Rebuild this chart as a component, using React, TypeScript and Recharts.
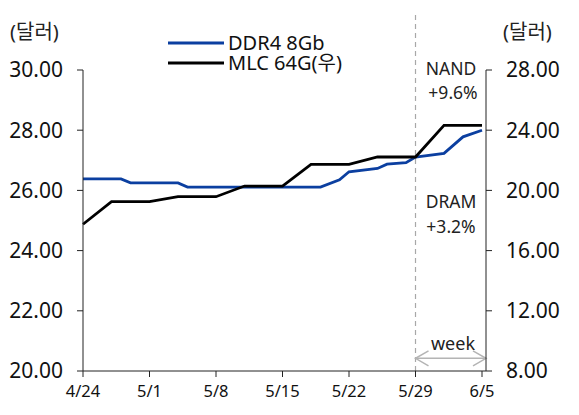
import React from "react";
import {
  LineChart,
  Line,
  XAxis,
  YAxis,
  Legend,
  ReferenceLine,
  Customized,
} from "recharts";

// Day offsets from 4/24 and values
const ddr4Days = [0, 4, 5, 10, 11, 25, 27, 28, 31, 32, 34, 35, 38, 40, 42];
const ddr4Values = [26.38, 26.38, 26.25, 26.25, 26.11, 26.11, 26.35, 26.62, 26.73, 26.87, 26.92, 27.11, 27.23, 27.78, 28.0];

const mlcDays = [0, 3, 7, 10, 14, 17, 21, 24, 28, 31, 35, 38, 42];
const mlcValues = [17.75, 19.25, 19.25, 19.58, 19.58, 20.29, 20.29, 21.73, 21.73, 22.22, 22.22, 24.32, 24.32];

const xTickDays = [0, 7, 14, 21, 28, 35, 42];
const xTickLabels = ["4/24", "5/1", "5/8", "5/15", "5/22", "5/29", "6/5"];
const leftTicks = [20, 22, 24, 26, 28, 30];
const rightTicks = [8, 12, 16, 20, 24, 28];

const ddr4Data = ddr4Days.map((d, i) => ({ day: d, ddr4: ddr4Values[i] }));
const mlcData = mlcDays.map((d, i) => ({ day: d, mlc: mlcValues[i] }));

const FONT = "'Noto Sans', 'Noto Sans CJK KR', sans-serif";
const BLUE = "#0b3fa0";
const AXIS = "#222";

const legendItems = [
  { name: "DDR4 8Gb", color: BLUE },
  { name: "MLC 64G(우)", color: "#000" },
];

const LegendContent = () => (
  <div style={{ height: 40, paddingTop: 3, boxSizing: "border-box", fontFamily: FONT, fontSize: 20, color: "#111" }}>
    {legendItems.map((s) => (
      <div key={s.name} style={{ display: "flex", alignItems: "center", height: 20, whiteSpace: "nowrap" }}>
        <svg width={56} height={4} style={{ flexShrink: 0, marginRight: 4, display: "block" }}>
          <line x1={0} y1={2} x2={56} y2={2} stroke={s.color} strokeWidth={3} />
        </svg>
        <span style={{ lineHeight: "20px" }}>{s.name}</span>
      </div>
    ))}
  </div>
);

const ArrowShape = (p: any) => {
  const { x1, y1, x2, y2 } = p;
  const h = 13;
  const w = 7.5;
  return (
    <g stroke="#b4b4b4" strokeWidth={1.5} fill="none">
      <line x1={x1} y1={y1} x2={x2} y2={y2} />
      <polyline points={`${x1 + h},${y1 - w} ${x1},${y1} ${x1 + h},${y1 + w}`} />
      <polyline points={`${x2 - h},${y2 - w} ${x2},${y2} ${x2 - h},${y2 + w}`} />
    </g>
  );
};

const Annotations = () => (
  <g fontFamily={FONT} fill="#222">
    <text x={10} y={31} fontSize={20} dominantBaseline="central">(달러)</text>
    <text x={503} y={31} fontSize={20} dominantBaseline="central">(달러)</text>
    <text x={451} y={68} fontSize={17.5} textAnchor="middle" dominantBaseline="central">NAND</text>
    <text x={453} y={92} fontSize={17.5} textAnchor="middle" dominantBaseline="central">+9.6%</text>
    <text x={451} y={201} fontSize={17.5} textAnchor="middle" dominantBaseline="central">DRAM</text>
    <text x={451} y={226} fontSize={17.5} textAnchor="middle" dominantBaseline="central">+3.2%</text>
    <text x={453} y={343} fontSize={18} textAnchor="middle" dominantBaseline="central">week</text>
  </g>
);

export default function App() {
  return (
    <div style={{ position: "absolute", left: 0, top: 0, width: 579, height: 415, background: "#fff" }}>
      <LineChart width={579} height={415} margin={{ top: 30, right: 0, bottom: 0, left: 0 }}>
        <XAxis
          dataKey="day"
          type="number"
          domain={[0, 42.42]}
          ticks={xTickDays}
          tickFormatter={(v: number) => xTickLabels[xTickDays.indexOf(v)] ?? ""}
          allowDuplicatedCategory={false}
          height={44}
          tickSize={6}
          tickMargin={8}
          stroke={AXIS}
          tick={{ fill: "#111", fontSize: 16.5, fontFamily: FONT }}
        />
        <YAxis
          yAxisId="left"
          orientation="left"
          domain={[20, 30]}
          ticks={leftTicks}
          tickFormatter={(v: number) => v.toFixed(2)}
          width={83}
          tickSize={6}
          tickMargin={14}
          stroke={AXIS}
          tick={{ fill: "#111", fontSize: 21, fontFamily: FONT }}
        />
        <YAxis
          yAxisId="right"
          orientation="right"
          domain={[8, 28]}
          ticks={rightTicks}
          tickFormatter={(v: number) => v.toFixed(2)}
          width={93}
          tickSize={6}
          tickMargin={14}
          stroke={AXIS}
          tick={{ fill: "#111", fontSize: 21, fontFamily: FONT }}
        />
        <Legend
          verticalAlign="top"
          align="left"
          layout="horizontal"
          content={LegendContent}
          wrapperStyle={{ left: 168, top: 30, width: "auto" }}
        />
        <ReferenceLine
          yAxisId="left"
          segment={[{ x: 35, y: 20 }, { x: 35, y: 31.9 }]}
          stroke="#a8a8a8"
          strokeWidth={1.2}
          strokeDasharray="5 4"
          ifOverflow="visible"
        />
        <ReferenceLine
          yAxisId="left"
          segment={[{ x: 35, y: 20.42 }, { x: 42.42, y: 20.42 }]}
          shape={ArrowShape}
          ifOverflow="visible"
        />
        <Line
          yAxisId="left"
          data={ddr4Data}
          dataKey="ddr4"
          name="DDR4 8Gb"
          type="linear"
          stroke={BLUE}
          strokeWidth={2.8}
          dot={false}
          isAnimationActive={false}
        />
        <Line
          yAxisId="right"
          data={mlcData}
          dataKey="mlc"
          name="MLC 64G(우)"
          type="linear"
          stroke="#000"
          strokeWidth={2.8}
          dot={false}
          isAnimationActive={false}
        />
        <Customized component={<Annotations />} />
      </LineChart>
    </div>
  );
}
